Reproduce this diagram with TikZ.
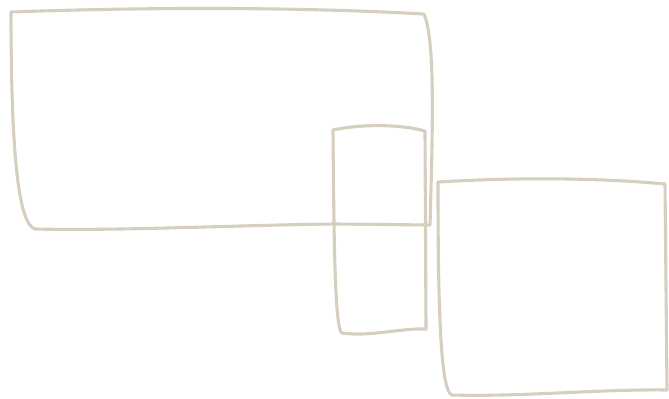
\documentclass[tikz,border=0pt]{standalone}
\usepackage{tikz}
\definecolor{SKline}{HTML}{D6CEBF}
\tikzset{
  skbox/.style={draw=SKline, line width=3.1bp, line join=round},
}
\begin{document}
\begin{tikzpicture}[x=1bp, y=-1bp]
  \useasboundingbox (0,0) rectangle (669,398);
  % wide box
  \draw[skbox] (11,12) .. controls (150,7) and (300,7) .. (424,14)
    .. controls (435,40) and (433,120) .. (430,225) -- (335,224)
    .. controls (240,225) and (120,231) .. (35,229)
    .. controls (18,224) and (11,150) .. (11,12) -- cycle;
  % narrow box
  \draw[skbox] (333,130) .. controls (360,124) and (400,124) .. (425,131)
    -- (426,329) .. controls (400,328) and (370,337) .. (342,333)
    .. controls (335,330) and (334,250) .. (333,130) -- cycle;
  % square box
  \draw[skbox] (438,182) .. controls (520,177) and (600,178) .. (665,184)
    -- (667,390) .. controls (600,389) and (520,397) .. (452,395)
    .. controls (440,392) and (438,300) .. (438,182) -- cycle;
\end{tikzpicture}
\end{document}
